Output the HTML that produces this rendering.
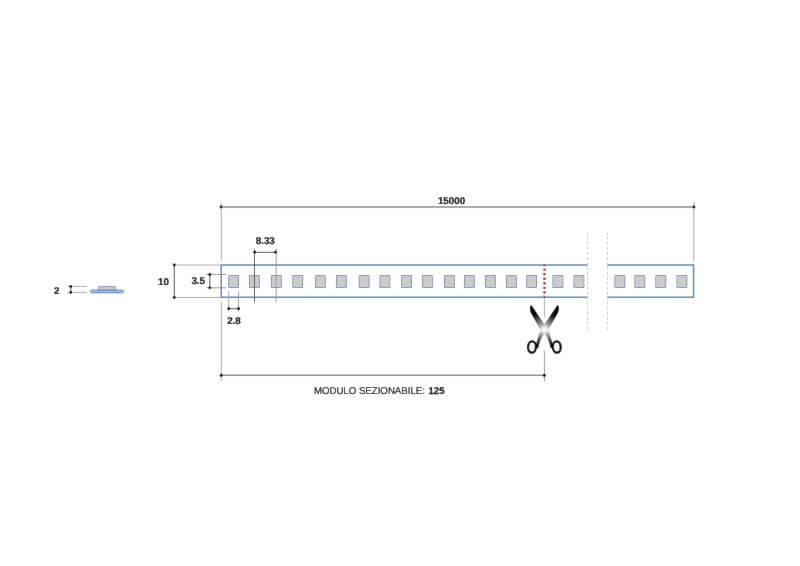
<!DOCTYPE html>
<html><head><meta charset="utf-8"><style>
html,body{margin:0;padding:0;background:#fff;width:800px;height:566px;overflow:hidden}
svg{display:block;text-rendering:geometricPrecision;font-family:"Liberation Sans",sans-serif}
</style></head><body>
<svg width="800" height="566" viewBox="0 0 800 566">
<defs><filter id="soft" x="0" y="0" width="800" height="566" filterUnits="userSpaceOnUse"><feConvolveMatrix order="3" kernelMatrix="0 1 0 1 16 1 0 1 0" divisor="20" preserveAlpha="false"/></filter></defs>
<g filter="url(#soft)">
<rect width="800" height="566" fill="#fff"/>
<line x1="221.3" y1="202" x2="221.3" y2="261.5" stroke="#a8a8a8" stroke-width="1" />
<line x1="221.3" y1="301.5" x2="221.3" y2="381" stroke="#a8a8a8" stroke-width="1" />
<line x1="693.8" y1="202" x2="693.8" y2="261" stroke="#a8a8a8" stroke-width="1" />
<line x1="221" y1="207" x2="694" y2="207" stroke="#505050" stroke-width="1" />
<circle cx="221" cy="207" r="1.4" fill="#000"/>
<circle cx="694" cy="207" r="1.4" fill="#000"/>
<text x="451.5" y="203.6" font-size="9.8" font-weight="bold" text-anchor="middle" fill="#000" stroke="#000" stroke-width="0.2">15000</text>
<rect x="543.3" y="263.95" width="2.3" height="2.3" rx="0.5" fill="#c01a1a"/>
<rect x="543.3" y="268.49" width="2.3" height="2.3" rx="0.5" fill="#c01a1a"/>
<rect x="543.3" y="273.04" width="2.3" height="2.3" rx="0.5" fill="#c01a1a"/>
<rect x="543.3" y="277.58" width="2.3" height="2.3" rx="0.5" fill="#c01a1a"/>
<rect x="543.3" y="282.12" width="2.3" height="2.3" rx="0.5" fill="#c01a1a"/>
<rect x="543.3" y="286.66" width="2.3" height="2.3" rx="0.5" fill="#c01a1a"/>
<rect x="543.3" y="291.21" width="2.3" height="2.3" rx="0.5" fill="#c01a1a"/>
<rect x="543.3" y="295.75" width="2.3" height="2.3" rx="0.5" fill="#c01a1a"/>
<line x1="544.4" y1="298" x2="544.4" y2="317" stroke="#aaa" stroke-width="1" />
<line x1="544.4" y1="351" x2="544.4" y2="381.5" stroke="#999" stroke-width="1" />
<path d="M588 265 H221.25 V297.25 H588" fill="none" stroke="#6086ab" stroke-width="1.5"/>
<path d="M607 265 H693.6 V297.25 H607" fill="none" stroke="#6086ab" stroke-width="1.5"/>
<rect x="228.7" y="275.5" width="9.8" height="12" rx="0.6" fill="#cbcbcb" stroke="#7f94b0" stroke-width="1.1"/>
<rect x="229.5" y="276.3" width="8.2" height="10.4" fill="none" stroke="#ccd6e0" stroke-width="0.5"/>
<rect x="249.5" y="275.5" width="9.8" height="12" rx="0.6" fill="#cbcbcb" stroke="#7f94b0" stroke-width="1.1"/>
<rect x="250.3" y="276.3" width="8.2" height="10.4" fill="none" stroke="#ccd6e0" stroke-width="0.5"/>
<rect x="271.5" y="275.5" width="9.8" height="12" rx="0.6" fill="#cbcbcb" stroke="#7f94b0" stroke-width="1.1"/>
<rect x="272.3" y="276.3" width="8.2" height="10.4" fill="none" stroke="#ccd6e0" stroke-width="0.5"/>
<rect x="292.8" y="275.5" width="9.8" height="12" rx="0.6" fill="#cbcbcb" stroke="#7f94b0" stroke-width="1.1"/>
<rect x="293.6" y="276.3" width="8.2" height="10.4" fill="none" stroke="#ccd6e0" stroke-width="0.5"/>
<rect x="315.5" y="275.5" width="9.8" height="12" rx="0.6" fill="#cbcbcb" stroke="#7f94b0" stroke-width="1.1"/>
<rect x="316.3" y="276.3" width="8.2" height="10.4" fill="none" stroke="#ccd6e0" stroke-width="0.5"/>
<rect x="336.5" y="275.5" width="9.8" height="12" rx="0.6" fill="#cbcbcb" stroke="#7f94b0" stroke-width="1.1"/>
<rect x="337.3" y="276.3" width="8.2" height="10.4" fill="none" stroke="#ccd6e0" stroke-width="0.5"/>
<rect x="359.3" y="275.5" width="9.8" height="12" rx="0.6" fill="#cbcbcb" stroke="#7f94b0" stroke-width="1.1"/>
<rect x="360.1" y="276.3" width="8.2" height="10.4" fill="none" stroke="#ccd6e0" stroke-width="0.5"/>
<rect x="380.0" y="275.5" width="9.8" height="12" rx="0.6" fill="#cbcbcb" stroke="#7f94b0" stroke-width="1.1"/>
<rect x="380.8" y="276.3" width="8.2" height="10.4" fill="none" stroke="#ccd6e0" stroke-width="0.5"/>
<rect x="401.7" y="275.5" width="9.8" height="12" rx="0.6" fill="#cbcbcb" stroke="#7f94b0" stroke-width="1.1"/>
<rect x="402.5" y="276.3" width="8.2" height="10.4" fill="none" stroke="#ccd6e0" stroke-width="0.5"/>
<rect x="422.5" y="275.5" width="9.8" height="12" rx="0.6" fill="#cbcbcb" stroke="#7f94b0" stroke-width="1.1"/>
<rect x="423.3" y="276.3" width="8.2" height="10.4" fill="none" stroke="#ccd6e0" stroke-width="0.5"/>
<rect x="444.5" y="275.5" width="9.8" height="12" rx="0.6" fill="#cbcbcb" stroke="#7f94b0" stroke-width="1.1"/>
<rect x="445.3" y="276.3" width="8.2" height="10.4" fill="none" stroke="#ccd6e0" stroke-width="0.5"/>
<rect x="464.5" y="275.5" width="9.8" height="12" rx="0.6" fill="#cbcbcb" stroke="#7f94b0" stroke-width="1.1"/>
<rect x="465.3" y="276.3" width="8.2" height="10.4" fill="none" stroke="#ccd6e0" stroke-width="0.5"/>
<rect x="485.5" y="275.5" width="9.8" height="12" rx="0.6" fill="#cbcbcb" stroke="#7f94b0" stroke-width="1.1"/>
<rect x="486.3" y="276.3" width="8.2" height="10.4" fill="none" stroke="#ccd6e0" stroke-width="0.5"/>
<rect x="506.5" y="275.5" width="9.8" height="12" rx="0.6" fill="#cbcbcb" stroke="#7f94b0" stroke-width="1.1"/>
<rect x="507.3" y="276.3" width="8.2" height="10.4" fill="none" stroke="#ccd6e0" stroke-width="0.5"/>
<rect x="526.7" y="275.5" width="9.8" height="12" rx="0.6" fill="#cbcbcb" stroke="#7f94b0" stroke-width="1.1"/>
<rect x="527.5" y="276.3" width="8.2" height="10.4" fill="none" stroke="#ccd6e0" stroke-width="0.5"/>
<rect x="553.0" y="275.5" width="9.8" height="12" rx="0.6" fill="#cbcbcb" stroke="#7f94b0" stroke-width="1.1"/>
<rect x="553.8" y="276.3" width="8.2" height="10.4" fill="none" stroke="#ccd6e0" stroke-width="0.5"/>
<rect x="574.0" y="275.5" width="9.8" height="12" rx="0.6" fill="#cbcbcb" stroke="#7f94b0" stroke-width="1.1"/>
<rect x="574.8" y="276.3" width="8.2" height="10.4" fill="none" stroke="#ccd6e0" stroke-width="0.5"/>
<rect x="614.9" y="275.5" width="9.8" height="12" rx="0.6" fill="#cbcbcb" stroke="#7f94b0" stroke-width="1.1"/>
<rect x="615.6999999999999" y="276.3" width="8.2" height="10.4" fill="none" stroke="#ccd6e0" stroke-width="0.5"/>
<rect x="634.9" y="275.5" width="9.8" height="12" rx="0.6" fill="#cbcbcb" stroke="#7f94b0" stroke-width="1.1"/>
<rect x="635.6999999999999" y="276.3" width="8.2" height="10.4" fill="none" stroke="#ccd6e0" stroke-width="0.5"/>
<rect x="655.9" y="275.5" width="9.8" height="12" rx="0.6" fill="#cbcbcb" stroke="#7f94b0" stroke-width="1.1"/>
<rect x="656.6999999999999" y="276.3" width="8.2" height="10.4" fill="none" stroke="#ccd6e0" stroke-width="0.5"/>
<rect x="677.0" y="275.5" width="9.8" height="12" rx="0.6" fill="#cbcbcb" stroke="#7f94b0" stroke-width="1.1"/>
<rect x="677.8" y="276.3" width="8.2" height="10.4" fill="none" stroke="#ccd6e0" stroke-width="0.5"/>
<line x1="587.5" y1="233.1" x2="587.5" y2="329.8" stroke="#c8c8c8" stroke-width="1" stroke-dasharray="2.8 2.2" stroke-dashoffset="1.1"/>
<line x1="607.4" y1="233.1" x2="607.4" y2="329.8" stroke="#c8c8c8" stroke-width="1" stroke-dasharray="2.8 2.2" stroke-dashoffset="1.1"/>
<line x1="254.5" y1="249" x2="254.5" y2="302.3" stroke="#555" stroke-width="1" />
<line x1="276.2" y1="249" x2="276.2" y2="302.3" stroke="#999" stroke-width="1" />
<line x1="254.5" y1="252.35" x2="276" y2="252.35" stroke="#505050" stroke-width="1" />
<circle cx="254.8" cy="252.2" r="1.4" fill="#000"/>
<circle cx="275.6" cy="252.2" r="1.4" fill="#000"/>
<text x="265.3" y="244.1" font-size="9.8" font-weight="bold" text-anchor="middle" fill="#000" stroke="#000" stroke-width="0.2">8.33</text>
<line x1="228.7" y1="291" x2="228.7" y2="311.6" stroke="#a0a0a0" stroke-width="1" />
<line x1="238.6" y1="291" x2="238.6" y2="311.6" stroke="#a0a0a0" stroke-width="1" />
<line x1="228.7" y1="308.7" x2="238.6" y2="308.7" stroke="#505050" stroke-width="1" />
<circle cx="228.7" cy="308.7" r="1.4" fill="#000"/>
<circle cx="238.6" cy="308.7" r="1.4" fill="#000"/>
<text x="234" y="323.7" font-size="9.8" font-weight="bold" text-anchor="middle" fill="#000" stroke="#000" stroke-width="0.2">2.8</text>
<line x1="172" y1="265" x2="221" y2="265" stroke="#a8a8a8" stroke-width="1" />
<line x1="172" y1="297.5" x2="221" y2="297.5" stroke="#a8a8a8" stroke-width="1" />
<line x1="174.3" y1="265" x2="174.3" y2="297.8" stroke="#505050" stroke-width="1" />
<circle cx="174.3" cy="265" r="1.4" fill="#000"/>
<circle cx="174.3" cy="297.5" r="1.4" fill="#000"/>
<text x="169" y="285" font-size="9.8" font-weight="bold" text-anchor="end" fill="#000" stroke="#000" stroke-width="0.2">10</text>
<line x1="206.5" y1="274.5" x2="226.3" y2="274.5" stroke="#999" stroke-width="1" />
<line x1="206.5" y1="287.8" x2="226.3" y2="287.8" stroke="#999" stroke-width="1" />
<line x1="209.8" y1="274.5" x2="209.8" y2="287.8" stroke="#505050" stroke-width="1" />
<circle cx="209.8" cy="274.5" r="1.4" fill="#000"/>
<circle cx="209.8" cy="287.8" r="1.4" fill="#000"/>
<text x="205" y="284.3" font-size="9.8" font-weight="bold" text-anchor="end" fill="#000" stroke="#000" stroke-width="0.2">3.5</text>
<line x1="67.5" y1="286.4" x2="86.8" y2="286.4" stroke="#aaa" stroke-width="1" />
<line x1="67.5" y1="292.4" x2="86.8" y2="292.4" stroke="#aaa" stroke-width="1" />
<line x1="70.8" y1="286.4" x2="70.8" y2="292.4" stroke="#505050" stroke-width="1" />
<circle cx="70.8" cy="286.4" r="1.4" fill="#000"/>
<circle cx="70.8" cy="292.4" r="1.4" fill="#000"/>
<text x="59.5" y="293.6" font-size="9.8" font-weight="bold" text-anchor="end" fill="#000" stroke="#000" stroke-width="0.2">2</text>
<rect x="98.4" y="286.4" width="17.4" height="4.2" rx="0.6" fill="#c4cad4" stroke="#7d92ae" stroke-width="0.9"/>
<rect x="90.5" y="290.2" width="33" height="2.6" rx="1.3" fill="#a6c6f0" stroke="#4f72a6" stroke-width="0.9"/>
<defs><radialGradient id="g" cx="544.4" cy="329.7" r="26" gradientUnits="userSpaceOnUse">
<stop offset="0" stop-color="#fff"/><stop offset="0.1" stop-color="#ececec"/><stop offset="0.21" stop-color="#aaa"/><stop offset="0.4" stop-color="#666"/><stop offset="0.6" stop-color="#222"/><stop offset="0.74" stop-color="#000"/></radialGradient></defs>
<g fill="url(#g)">
<path d="M 531.4 305.0 L 545.8 326.5 Q 549.5 332 551.6 340 L 553.3 347 L 550.7 348.5 Q 548.5 338 543.5 332.5 L 540.1 329.1 L 530.6 312.5 Q 529.3 309 530.0 306.8 Q 530.6 305.2 531.4 305.0 Z"/>
<path d="M 557.4 305.0 L 543.0 326.5 Q 539.3 332 537.2 340 L 535.5 347 L 538.1 348.5 Q 540.3 338 545.3 332.5 L 548.7 329.1 L 558.2 312.5 Q 559.5 309 558.8 306.8 Q 558.2 305.2 557.4 305.0 Z"/>
</g>
<g fill="none" stroke="#000" stroke-width="2.3"><ellipse cx="532.0" cy="347.0" rx="3.95" ry="5.7" transform="rotate(4 532 347)"/><ellipse cx="556.8" cy="347.0" rx="3.95" ry="5.7" transform="rotate(-4 556.8 347)"/></g>
<line x1="221.2" y1="375.2" x2="544.4" y2="375.2" stroke="#505050" stroke-width="1" />
<circle cx="221.2" cy="375.2" r="1.5" fill="#000"/>
<circle cx="544.4" cy="375.2" r="1.5" fill="#000"/>
<text x="313.9" y="394" font-size="10" fill="#111" stroke="#111" stroke-width="0.22" textLength="111" lengthAdjust="spacingAndGlyphs">MODULO SEZIONABILE:</text>
<text x="428.6" y="394" font-size="10" font-weight="bold" fill="#000" stroke="#000" stroke-width="0.25" textLength="15.8" lengthAdjust="spacingAndGlyphs">125</text>
</g>
</svg>
</body></html>
